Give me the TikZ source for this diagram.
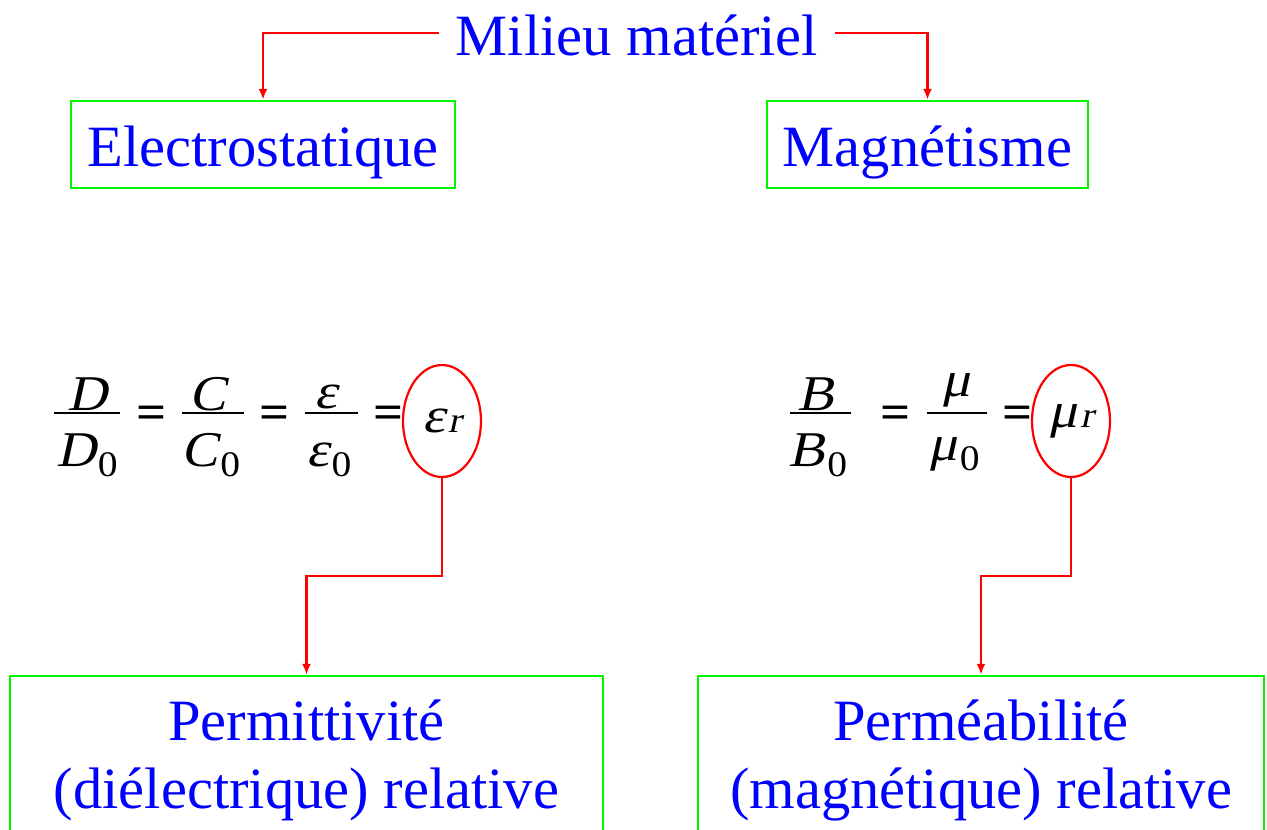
\documentclass[tikz,border=0pt]{standalone}
\usepackage{fontspec}
\setmainfont{Liberation Serif}
\newfontfamily\eqit{Liberation Serif}[FakeSlant=0.22, FakeStretch=1.1]
\newfontfamily\equp{Liberation Serif}[FakeStretch=1.1]
\usetikzlibrary{shapes.geometric,arrows.meta}
\definecolor{tblue}{RGB}{0,0,255}
\definecolor{tgreen}{RGB}{0,245,0}
\definecolor{tred}{RGB}{255,0,0}
\newcommand\subz[1]{\kern2pt\raisebox{-10pt}{\equp\fontsize{36}{36}\selectfont #1}}
\newcommand\subr{\kern2pt{\fontsize{36}{36}\selectfont r}}
\tikzset{
 bluetxt/.style={text=tblue, font=\fontsize{58.5}{68}\selectfont, inner sep=0pt},
 greenbox/.style={draw=tgreen, line width=2.5pt, inner sep=0pt, text=tblue, font=\fontsize{58.5}{68}\selectfont},
 redarrow/.style={draw=tred, line width=2.2pt, -{Latex[length=11pt,width=9pt]}},
 ring/.style={draw=tred, ellipse, line width=2.2pt, minimum width=78pt, minimum height=112pt, inner sep=0pt, font=\eqit\fontsize{50}{50}\selectfont},
 eq/.style={font=\eqit\fontsize{50}{50}\selectfont, inner sep=0pt, anchor=base},
 eqop/.style={font=\equp\bfseries\fontsize{48}{48}\selectfont, inner sep=0pt, anchor=base},
 fbar/.style={line width=2.6pt},
}
\begin{document}
\begin{tikzpicture}[x=1pt,y=-1pt]
\useasboundingbox (0,0) rectangle (1267,830);
\clip (0,0) rectangle (1267,830);
\fill[white] (0,0) rectangle (1267,830);

% top
\node[bluetxt, anchor=base, text height=44pt, text depth=0pt, inner xsep=17pt] (milieu) at (637,55) {Milieu matériel};
\node[greenbox, anchor=base, text height=65pt, text depth=22pt, minimum width=384pt] (elec) at (263,166) {Electrostatique};
\node[greenbox, anchor=base, text height=65pt, text depth=22pt, minimum width=321pt] (magn) at (927.5,166) {Magnétisme};
\draw[redarrow] (milieu.west) -| (elec.north);
\draw[redarrow] (milieu.east) -| (magn.north);

% left equation
\node[eq] (nD) at (87,410) {D};
\draw[fbar] (54,413) -- (120,413);
\node[eq] (dD) at (87,466) {D\subz0};
\node[eqop] (eq1) at (152,428) {=};
\node[eq] (nC) at (208,410) {C};
\draw[fbar] (182,413) -- (244,413);
\node[eq] (dC) at (211,466) {C\subz0};
\node[eqop] (eq2) at (275,428) {=};
\node[eq] (nE) at (326,408) {ε};
\draw[fbar] (305,413) -- (358,413);
\node[eq] (dE) at (329,466) {ε\subz0};
\node[eqop] (eq3) at (389,428) {=};
\node[ring] (epsr) at (442,421) {ε\subr};

% right equation
\node[eq] (nB) at (816,410) {B};
\draw[fbar] (790,413) -- (851,413);
\node[eq] (dB) at (818,466) {B\subz0};
\node[eqop] (eq4) at (896,428) {=};
\node[eq] (nM) at (956,396) {μ};
\draw[fbar] (927,413) -- (987,413);
\node[eq] (dM) at (954,460) {μ\subz0};
\node[eqop] (eq5) at (1018,428) {=};
\node[ring] (mur) at (1071,421) {μ\subr};

% bottom boxes
\node[greenbox, anchor=base, align=center, text height=132pt, text depth=50pt, minimum width=593pt] (perm) at (306.5,808) {Permittivité\\(diélectrique) relative};
\node[greenbox, anchor=base, align=center, text height=132pt, text depth=50pt, minimum width=566pt] (perme) at (981,808) {Perméabilité\\(magnétique) relative};

\coordinate (kE) at (0,576);
\draw[redarrow] (epsr.south) -- (epsr.south |- kE) -| (perm.north);
\draw[redarrow] (mur.south) -- (mur.south |- kE) -| (perme.north);
\end{tikzpicture}
\end{document}
